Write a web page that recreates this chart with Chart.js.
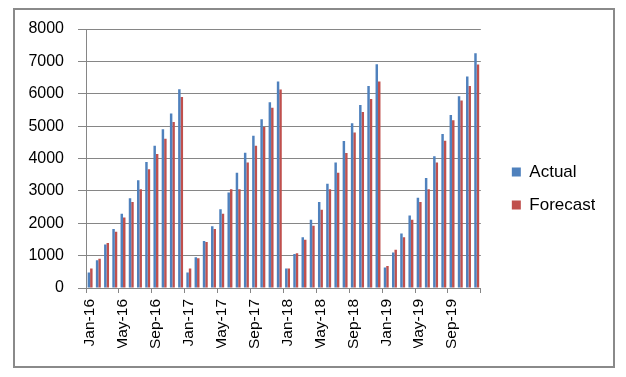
<!DOCTYPE html>
<html lang="en">
<head>
    <meta charset="UTF-8">
    <title>Actual vs Forecast</title>
    <script src="https://cdn.jsdelivr.net/npm/chart.js"></script>
    <style>
        body {
            margin: 0;
            padding: 0;
            background: #fff;
        }
        #frame {
            position: absolute;
            left: 13px;
            top: 8px;
            width: 602px;
            height: 360px;
            box-sizing: border-box;
            border: 2px solid #8a8a8a;
        }
        #chart {
            position: absolute;
            left: 0;
            top: 0;
        }
    </style>
</head>
<body>

    <div id="frame"></div>
    <canvas id="chart" width="626" height="377"></canvas>

    <script>
        // months on the category axis
        const months = [
            "Jan-16", "Feb-16", "Mar-16", "Apr-16", "May-16", "Jun-16", "Jul-16", "Aug-16", "Sep-16", "Oct-16", "Nov-16", "Dec-16",
            "Jan-17", "Feb-17", "Mar-17", "Apr-17", "May-17", "Jun-17", "Jul-17", "Aug-17", "Sep-17", "Oct-17", "Nov-17", "Dec-17",
            "Jan-18", "Feb-18", "Mar-18", "Apr-18", "May-18", "Jun-18", "Jul-18", "Aug-18", "Sep-18", "Oct-18", "Nov-18", "Dec-18",
            "Jan-19", "Feb-19", "Mar-19", "Apr-19", "May-19", "Jun-19", "Jul-19", "Aug-19", "Sep-19", "Oct-19", "Nov-19", "Dec-19"
        ];

        const actual = [
            480, 860, 1340, 1820, 2290, 2770, 3330, 3890, 4390, 4900, 5390, 6140,
            480, 950, 1450, 1910, 2430, 2950, 3560, 4180, 4700, 5210, 5740, 6380,
            600, 1050, 1570, 2110, 2660, 3220, 3880, 4540, 5090, 5650, 6240, 6910,
            630, 1100, 1680, 2240, 2790, 3400, 4070, 4760, 5340, 5920, 6530, 7250
        ];

        const forecast = [
            600, 900, 1390, 1740, 2180, 2660, 3050, 3670, 4140, 4610, 5130, 5900,
            600, 920, 1420, 1820, 2290, 3050, 3050, 3880, 4390, 4970, 5570, 6130,
            600, 1070, 1490, 1920, 2420, 3050, 3560, 4170, 4800, 5440, 5840, 6380,
            680, 1180, 1570, 2110, 2660, 3050, 3880, 4550, 5180, 5790, 6240, 6900
        ];

        const yTicks = [0, 1000, 2000, 3000, 4000, 5000, 6000, 7000, 8000];

        const gray = "#868686";
        const font = "'Liberation Sans', Arial, sans-serif";

        var ctx = document.getElementById('chart').getContext('2d');
        var chart = new Chart(ctx, {
            type: 'bar',
            data: {
                labels: months,
                datasets: [
                    { label: "Actual", data: actual, backgroundColor: "#4F81BD", borderWidth: 0 },
                    { label: "Forecast", data: forecast, backgroundColor: "#C0504D", borderWidth: 0 }
                ]
            },
            options: {
                responsive: false,
                devicePixelRatio: 1,
                animation: false,
                layout: { padding: { left: 0, top: 29, right: 31, bottom: 29 } },
                datasets: {
                    bar: { categoryPercentage: 0.6, barPercentage: 1.0 }
                },
                scales: {
                    x: {
                        grid: {
                            drawOnChartArea: false,
                            drawTicks: true,
                            tickLength: 5,
                            tickColor: c => (c.index === undefined || c.index % 4 === 0) ? gray : 'rgba(0,0,0,0)'
                        },
                        border: { display: true, color: gray, width: 1 },
                        ticks: {
                            autoSkip: false,
                            maxRotation: 90,
                            minRotation: 90,
                            padding: 6,
                            color: "#000",
                            font: { family: font, size: 15.5 },
                            callback: (v, i) => i % 4 === 0 ? months[i] : ''
                        },
                        afterFit: s => { s.height = 60; s.paddingLeft = 0; s.paddingRight = 0; }
                    },
                    y: {
                        min: 0,
                        max: 8000,
                        afterBuildTicks: s => { s.ticks = yTicks.map(v => ({ value: v })); },
                        grid: { color: gray, lineWidth: 1, tickLength: 8, drawTicks: true },
                        border: { display: true, color: gray, width: 1 },
                        ticks: {
                            padding: 14,
                            color: "#000",
                            font: { family: font, size: 16 },
                            callback: v => String(v)
                        },
                        afterFit: s => { s.width = 86; s.paddingTop = 0; s.paddingBottom = 0; }
                    },
                    gap: {
                        type: 'linear',
                        position: 'right',
                        display: true,
                        grid: { display: false },
                        border: { display: false },
                        ticks: { display: false },
                        afterFit: s => { s.width = 15; }
                    }
                },
                plugins: {
                    legend: {
                        position: 'right',
                        labels: {
                            boxWidth: 9,
                            boxHeight: 9,
                            padding: 16,
                            color: "#000",
                            font: { family: font, size: 17 }
                        }
                    },
                    tooltip: { enabled: false }
                }
            }
        });
    </script>
</body>
</html>
